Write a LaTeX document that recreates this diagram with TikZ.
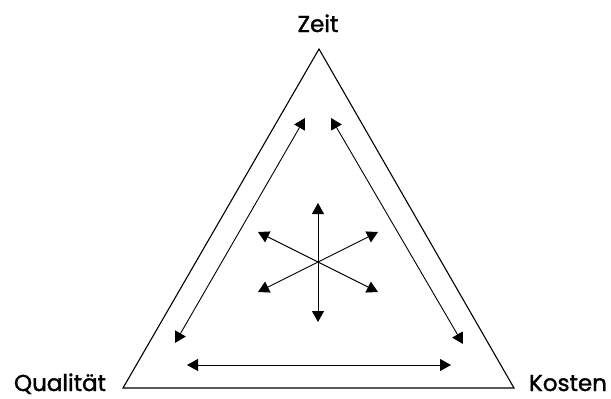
\documentclass[tikz,border=0pt]{standalone}
\usepackage{fontspec}
\setmainfont{Poppins}[UprightFeatures={FakeBold=1.5}]
\usetikzlibrary{arrows.meta}

\begin{document}
\begin{tikzpicture}[x=1pt, y=-1pt,
  side/.style={line width=1.1pt, line join=miter},
  arr/.style={{Triangle[length=11pt, width=12pt]}-{Triangle[length=11pt, width=12pt]}, line width=0.9pt},
  lbl/.style={font=\fontsize{23}{25}\selectfont, inner sep=0pt, anchor=base}
]
\useasboundingbox (0,0) rectangle (611,399);
% corners of the triangle
\coordinate (top) at (319,49);
\coordinate (left) at (123,388);
\coordinate (right) at (514,388);
\draw[side] (top) -- (left) -- (right) -- cycle;
% labels
\node[lbl] (zeit) at (318,32) {Zeit};
\node[lbl] (qualitaet) at (60,391) {Qualität};
\node[lbl] (kosten) at (568,391) {Kosten};
% arrows along the sides
\coordinate (l1) at (305,118);
\coordinate (l2) at (175,343);
\coordinate (r1) at (331,118);
\coordinate (r2) at (463,344);
\coordinate (b1) at (187,365);
\coordinate (b2) at (451,365);
\draw[arr] (l1) -- (l2);
\draw[arr] (r1) -- (r2);
\draw[arr] (b1) -- (b2);
% star in the middle
\coordinate (n) at (318,203);
\coordinate (s) at (318,322);
\coordinate (nw) at (258,232);
\coordinate (se) at (378,292);
\coordinate (ne) at (378,232);
\coordinate (sw) at (258,292);
\draw[arr] (n) -- (s);
\draw[arr] (nw) -- (se);
\draw[arr] (ne) -- (sw);
\end{tikzpicture}
\end{document}
